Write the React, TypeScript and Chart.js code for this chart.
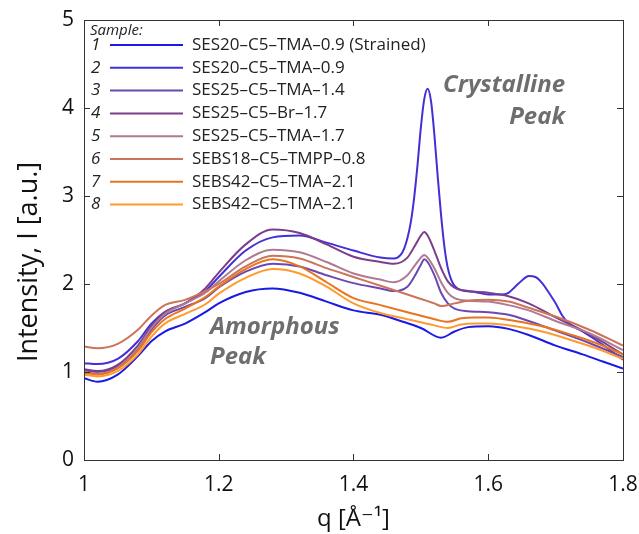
import React, { useEffect, useRef } from "react";
import { Chart, registerables } from "chart.js";

Chart.register(...registerables);

// ---- data ----
const sampleNumbers = ["1", "2", "3", "4", "5", "6", "7", "8"];
const sampleLabels = [
  "SES20\u2013C5\u2013TMA\u20130.9 (Strained)",
  "SES20\u2013C5\u2013TMA\u20130.9",
  "SES25\u2013C5\u2013TMA\u20131.4",
  "SES25\u2013C5\u2013Br\u20131.7",
  "SES25\u2013C5\u2013TMA\u20131.7",
  "SEBS18\u2013C5\u2013TMPP\u20130.8",
  "SEBS42\u2013C5\u2013TMA\u20132.1",
  "SEBS42\u2013C5\u2013TMA\u20132.1",
];
const sampleColors = ["#1a1ae6", "#4230d6", "#6a48b4", "#7b3d8c", "#b07a92", "#cc7458", "#e8741e", "#ff9a2e"];

const qLeft = [1.0, 1.02, 1.05, 1.08, 1.1, 1.12, 1.15, 1.18, 1.2, 1.24, 1.28, 1.32, 1.36, 1.4];

const q1 = [...qLeft, 1.44, 1.47, 1.5, 1.53, 1.55, 1.57, 1.6, 1.63, 1.66, 1.7, 1.74, 1.77, 1.8];
const i1 = [0.93, 0.89, 0.97, 1.18, 1.35, 1.46, 1.55, 1.68, 1.78, 1.91, 1.95, 1.9, 1.8, 1.7,
  1.65, 1.58, 1.5, 1.39, 1.46, 1.51, 1.52, 1.49, 1.42, 1.3, 1.2, 1.12, 1.04];

const q2 = [...qLeft, 1.44, 1.46, 1.47, 1.475, 1.48, 1.485, 1.49, 1.495, 1.5, 1.505, 1.51, 1.515, 1.52, 1.525,
  1.53, 1.535, 1.54, 1.545, 1.55, 1.56, 1.58, 1.6, 1.62, 1.63, 1.64, 1.65, 1.66, 1.67, 1.68, 1.69, 1.7, 1.71,
  1.72, 1.74, 1.77, 1.8];
const i2 = [1.1, 1.09, 1.15, 1.35, 1.55, 1.68, 1.78, 1.92, 2.08, 2.38, 2.53, 2.55, 2.47, 2.38,
  2.3, 2.29, 2.33, 2.4, 2.52, 2.7, 2.98, 3.35, 3.78, 4.1, 4.22, 4.08, 3.7, 3.22,
  2.78, 2.42, 2.18, 2.05, 1.98, 1.93, 1.91, 1.88, 1.88, 1.9, 1.97, 2.04, 2.09, 2.08, 2.01, 1.9, 1.78, 1.64,
  1.55, 1.46, 1.31, 1.14];

const q3 = [...qLeft, 1.44, 1.46, 1.48, 1.49, 1.5, 1.505, 1.51, 1.52, 1.53, 1.54, 1.55, 1.57, 1.6, 1.63, 1.66, 1.7, 1.75, 1.8];
const i3 = [1.02, 1.0, 1.06, 1.26, 1.48, 1.64, 1.74, 1.84, 1.96, 2.14, 2.23, 2.2, 2.1, 2.01,
  1.95, 1.92, 1.97, 2.08, 2.22, 2.28, 2.25, 2.1, 1.9, 1.78, 1.72, 1.69, 1.68, 1.65, 1.58, 1.47, 1.33, 1.17];

const q4 = [...qLeft, 1.44, 1.46, 1.48, 1.49, 1.5, 1.505, 1.51, 1.52, 1.53, 1.54, 1.55, 1.57, 1.6, 1.63, 1.66, 1.7, 1.75, 1.8];
const i4 = [1.03, 1.01, 1.08, 1.3, 1.52, 1.68, 1.78, 1.95, 2.13, 2.45, 2.62, 2.58, 2.45, 2.31,
  2.25, 2.23, 2.3, 2.42, 2.55, 2.59, 2.55, 2.38, 2.18, 2.03, 1.96, 1.92, 1.9, 1.86, 1.78, 1.62, 1.43, 1.2];

const q5 = [...qLeft, 1.44, 1.46, 1.48, 1.49, 1.5, 1.505, 1.51, 1.52, 1.53, 1.54, 1.55, 1.57, 1.6, 1.63, 1.66, 1.7, 1.75, 1.8];
const i5 = [1.0, 0.98, 1.05, 1.27, 1.5, 1.66, 1.78, 1.9, 2.03, 2.27, 2.39, 2.36, 2.25, 2.12,
  2.05, 2.02, 2.1, 2.2, 2.3, 2.33, 2.3, 2.18, 2.02, 1.9, 1.84, 1.81, 1.8, 1.76, 1.7, 1.58, 1.44, 1.25];

const q6 = [...qLeft, 1.44, 1.48, 1.52, 1.53, 1.55, 1.57, 1.6, 1.63, 1.66, 1.7, 1.75, 1.8];
const i6 = [1.29, 1.27, 1.32, 1.48, 1.64, 1.76, 1.82, 1.92, 2.0, 2.2, 2.32, 2.29, 2.18, 2.08,
  1.98, 1.88, 1.78, 1.75, 1.78, 1.81, 1.82, 1.8, 1.73, 1.63, 1.48, 1.3];

const q7 = [...qLeft, 1.44, 1.48, 1.52, 1.54, 1.56, 1.58, 1.6, 1.64, 1.68, 1.72, 1.76, 1.8];
const i7 = [0.99, 0.97, 1.04, 1.24, 1.45, 1.6, 1.72, 1.85, 1.97, 2.17, 2.28, 2.2, 2.02, 1.84,
  1.76, 1.68, 1.6, 1.57, 1.61, 1.62, 1.62, 1.58, 1.52, 1.43, 1.33, 1.2];

const q8 = [...qLeft, 1.44, 1.48, 1.52, 1.54, 1.56, 1.58, 1.6, 1.64, 1.68, 1.72, 1.76, 1.8];
const i8 = [0.97, 0.95, 1.01, 1.2, 1.4, 1.55, 1.66, 1.77, 1.89, 2.07, 2.17, 2.12, 1.97, 1.78,
  1.67, 1.6, 1.53, 1.5, 1.54, 1.55, 1.55, 1.52, 1.46, 1.37, 1.27, 1.15];

const seriesQ = [q1, q2, q3, q4, q5, q6, q7, q8];
const seriesI = [i1, i2, i3, i4, i5, i6, i7, i8];

const xTicks = [1, 1.2, 1.4, 1.6, 1.8];
const yTicks = [0, 1, 2, 3, 4, 5];
const yTitle = "Intensity, I [a.u.]";
const xTitle = "q [\u00C5\u207B\u00B9]";

const FONT = "'Open Sans', 'DejaVu Sans', sans-serif";

const framePlugin = {
  id: "frame",
  afterDatasetsDraw(chart: any) {
    const { ctx, chartArea: a, scales } = chart;
    ctx.save();
    ctx.strokeStyle = "#333";
    ctx.lineWidth = 1;
    ctx.strokeRect(a.left + 0.5, a.top + 0.5, a.right - a.left, a.bottom - a.top);
    const L = 6;
    ctx.beginPath();
    xTicks.forEach((v) => {
      const x = Math.round(scales.x.getPixelForValue(v)) + 0.5;
      ctx.moveTo(x, a.bottom);
      ctx.lineTo(x, a.bottom - L);
      ctx.moveTo(x, a.top);
      ctx.lineTo(x, a.top + L);
    });
    yTicks.forEach((v) => {
      const y = Math.round(scales.y.getPixelForValue(v)) + 0.5;
      ctx.moveTo(a.left, y);
      ctx.lineTo(a.left + L, y);
      ctx.moveTo(a.right, y);
      ctx.lineTo(a.right - L, y);
    });
    ctx.stroke();
    // y-axis title
    ctx.fillStyle = "#111";
    ctx.font = `27px ${FONT}`;
    ctx.textAlign = "center";
    ctx.textBaseline = "middle";
    ctx.translate(29, (a.top + a.bottom) / 2 + 22);
    ctx.rotate(-Math.PI / 2);
    ctx.fillText(yTitle, 0, 0);
    ctx.restore();
  },
};

const legendPlugin = {
  id: "customLegend",
  afterDatasetsDraw(chart: any) {
    const { ctx, chartArea: a } = chart;
    ctx.save();
    ctx.textBaseline = "middle";
    ctx.fillStyle = "#222";
    ctx.font = `italic 15px ${FONT}`;
    ctx.textAlign = "left";
    ctx.fillText("Sample:", a.left + 6, a.top + 11);
    const rowH = 22.8;
    const y0 = a.top + 25;
    sampleLabels.forEach((lab, i) => {
      const y = y0 + i * rowH;
      ctx.fillStyle = "#222";
      ctx.font = `italic 17px ${FONT}`;
      ctx.fillText(sampleNumbers[i], a.left + 7, y);
      ctx.strokeStyle = sampleColors[i];
      ctx.lineWidth = 2;
      ctx.beginPath();
      ctx.moveTo(a.left + 26, y);
      ctx.lineTo(a.left + 99, y);
      ctx.stroke();
      ctx.font = `17px ${FONT}`;
      ctx.fillText(lab, a.left + 108, y);
    });
    ctx.restore();
  },
};

const annotationPlugin = {
  id: "annot",
  afterDatasetsDraw(chart: any) {
    const { ctx, scales } = chart;
    const px = (v: number) => scales.x.getPixelForValue(v);
    const py = (v: number) => scales.y.getPixelForValue(v);
    ctx.save();
    ctx.fillStyle = "#6e6e6e";
    ctx.font = `italic bold 24px ${FONT}`;
    ctx.textBaseline = "middle";
    ctx.textAlign = "right";
    ctx.fillText("Crystalline", px(1.714), py(4.26));
    ctx.fillText("Peak", px(1.714), py(3.9));
    ctx.textAlign = "left";
    ctx.fillText("Amorphous", px(1.187), py(1.51));
    ctx.fillText("Peak", px(1.187), py(1.17));
    ctx.restore();
  },
};

export default function App() {
  const ref = useRef<HTMLCanvasElement | null>(null);
  useEffect(() => {
    document.body.style.margin = "0";
    const canvas = ref.current!;
    const datasets = seriesQ.map((qs, k) => ({
      label: sampleLabels[k],
      data: qs.map((q, j) => ({ x: q, y: seriesI[k][j] })),
      borderColor: sampleColors[k],
      backgroundColor: sampleColors[k],
      borderWidth: 2,
      pointRadius: 0,
      fill: false,
      cubicInterpolationMode: "monotone" as const,
      order: 8 - k,
    }));
    const chart = new Chart(canvas, {
      type: "line",
      data: { datasets },
      options: {
        responsive: false,
        animation: false,
        layout: { padding: { left: 0, right: 16, top: 20, bottom: 0 } },
        plugins: { legend: { display: false }, tooltip: { enabled: false } },
        scales: {
          x: {
            type: "linear",
            min: 1,
            max: 1.8,
            afterFit: (s: any) => { s.height = 74; s.paddingLeft = 0; s.paddingRight = 0; },
            afterBuildTicks: (s: any) => { s.ticks = xTicks.map((v) => ({ value: v })); },
            grid: { display: false, drawTicks: false },
            border: { display: false },
            ticks: {
              color: "#111",
              padding: 12,
              font: { family: FONT, size: 21 },
              callback: (v: any) => String(v),
            },
            title: {
              display: true,
              text: xTitle,
              color: "#111",
              font: { family: FONT, size: 24 },
              padding: { top: -2, bottom: 0 },
            },
          },
          y: {
            min: 0,
            max: 5,
            afterFit: (s: any) => { s.width = 84; s.paddingTop = 0; s.paddingBottom = 0; },
            afterBuildTicks: (s: any) => { s.ticks = yTicks.map((v) => ({ value: v })); },
            grid: { display: false, drawTicks: false },
            border: { display: false },
            ticks: {
              color: "#111",
              padding: 10,
              font: { family: FONT, size: 21 },
              callback: (v: any) => String(v),
            },
          },
        },
      },
      plugins: [framePlugin, legendPlugin, annotationPlugin],
    });
    return () => chart.destroy();
  }, []);
  return <canvas ref={ref} width={639} height={534} style={{ display: "block", width: 639, height: 534 }} />;
}
